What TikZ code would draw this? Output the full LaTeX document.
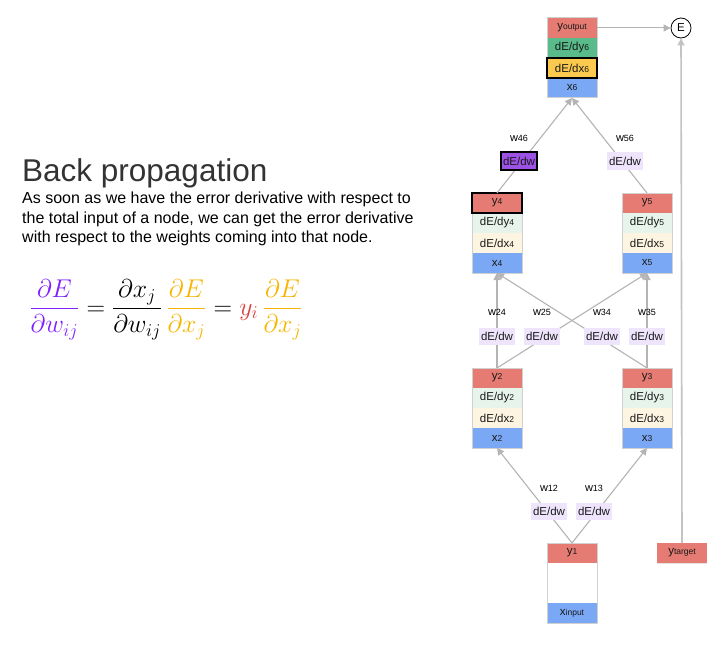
\RequirePackage{fix-cm}
\documentclass[tikz,border=0pt]{standalone}
\usepackage{fontspec}
\setmainfont{Liberation Sans}
\usepackage{amsmath}
\usetikzlibrary{arrows.meta}
\definecolor{cred}{HTML}{E57B72}
\definecolor{cgreen}{HTML}{58BB89}
\definecolor{cyellow}{HTML}{FBC94E}
\definecolor{cblue}{HTML}{7BA8F5}
\definecolor{lgreen}{HTML}{E6F4EC}
\definecolor{lcream}{HTML}{FDF4E1}
\definecolor{lav}{HTML}{EEE5FD}
\definecolor{cpurple}{HTML}{9D52E6}
\definecolor{lineg}{HTML}{B4B4B4}
\definecolor{boxb}{HTML}{D0D0D0}
\definecolor{eqpurple}{HTML}{7F1FFF}
\definecolor{eqyellow}{HTML}{F7B500}
\definecolor{eqred}{HTML}{D9413C}
\newcommand\sbs[1]{{\fontsize{8.5}{8.5}\selectfont #1}}
\newcommand\wsb[1]{{\fontsize{9}{9}\selectfont #1}}
\tikzset{
  row/.style={minimum width=50pt, minimum height=20pt, inner sep=0pt, outer sep=0pt,
    font=\fontsize{11.5}{11.5}\selectfont, text=black!90},
  colborder/.style={draw=boxb, line width=1pt},
  conn/.style={draw=lineg, line width=1.1pt, -{Triangle[width=7pt,length=7pt]}},
  wbox/.style={fill=lav, inner xsep=2.5pt, inner ysep=0pt, minimum height=17pt,
    font=\fontsize{11.5}{11.5}\selectfont, text=black!90},
  wlab/.style={font=\fontsize{11}{11}\selectfont, text=black, inner sep=0pt},
}
\begin{document}
\begin{tikzpicture}[x=1pt,y=-1pt]
\useasboundingbox[fill=white] (0,0) rectangle (711,655);

% left text
\node[anchor=base west, inner sep=0pt, font=\fontsize{31.5}{31.5}\selectfont, text=black!80] (title) at (22,181) {Back propagation};
\node[anchor=north west, inner sep=0pt, align=left, font=\fontsize{16}{19.5}\selectfont, text=black] (body) at (22,192)
  {As soon as we have the error derivative with respect to\\the total input of a node, we can get the error derivative\\with respect to the weights coming into that node.};
\node[inner sep=0pt, font=\fontsize{25.7}{30}\selectfont] (eq) at (166,310)
  {$\displaystyle \textcolor{eqpurple}{\frac{\partial E}{\partial w_{ij}}} = \frac{\partial x_j}{\partial w_{ij}}\,\textcolor{eqyellow}{\frac{\partial E}{\partial x_j}} = \textcolor{eqred}{y_i}\,\textcolor{eqyellow}{\frac{\partial E}{\partial x_j}}$};

% output column
\node[row, fill=cred] (yout) at (572,28) {y\sbs{output}};
\node[row, fill=cgreen] (dy6) at (572,48) {dE/dy\sbs{6}};
\node[row, fill=cyellow] (dx6) at (572,68) {dE/dx\sbs{6}};
\node[row, fill=cblue] (x6) at (572,88) {x\sbs{6}};
\draw[colborder] (yout.north west) rectangle (x6.south east);
\draw[black, line width=2pt] (dx6.north west) rectangle (dx6.south east);

% node 4
\node[row, fill=cred] (y4) at (497,203) {y\sbs{4}};
\node[row, fill=lgreen] (dy4) at (497,223) {dE/dy\sbs{4}};
\node[row, fill=lcream] (dx4) at (497,243) {dE/dx\sbs{4}};
\node[row, fill=cblue] (x4) at (497,263) {x\sbs{4}};
\draw[colborder] (y4.north west) rectangle (x4.south east);
\draw[black, line width=2pt] (y4.north west) rectangle (y4.south east);

% node 5
\node[row, fill=cred] (y5) at (647,203) {y\sbs{5}};
\node[row, fill=lgreen] (dy5) at (647,223) {dE/dy\sbs{5}};
\node[row, fill=lcream] (dx5) at (647,243) {dE/dx\sbs{5}};
\node[row, fill=cblue] (x5) at (647,263) {x\sbs{5}};
\draw[colborder] (y5.north west) rectangle (x5.south east);

% node 2
\node[row, fill=cred] (y2) at (497,378) {y\sbs{2}};
\node[row, fill=lgreen] (dy2) at (497,398) {dE/dy\sbs{2}};
\node[row, fill=lcream] (dx2) at (497,418) {dE/dx\sbs{2}};
\node[row, fill=cblue] (x2) at (497,438) {x\sbs{2}};
\draw[colborder] (y2.north west) rectangle (x2.south east);

% node 3
\node[row, fill=cred] (y3) at (647,378) {y\sbs{3}};
\node[row, fill=lgreen] (dy3) at (647,398) {dE/dy\sbs{3}};
\node[row, fill=lcream] (dx3) at (647,418) {dE/dx\sbs{3}};
\node[row, fill=cblue] (x3) at (647,438) {x\sbs{3}};
\draw[colborder] (y3.north west) rectangle (x3.south east);

% node 1
\node[row, fill=cred] (y1) at (572,553) {y\sbs{1}};
\node[row, minimum height=40pt] (blank1) at (572,583) {};
\node[row, fill=cblue] (xin) at (572,613) {x\sbs{input}};
\draw[colborder] (y1.north west) rectangle (xin.south east);

% target
\node[row, fill=cred] (yt) at (682,553) {y\sbs{target}};
\draw[draw=boxb!60, line width=1pt] (yt.south west) -- (yt.south east);

% error node
\node[circle, draw=black, line width=0.8pt, minimum size=20pt, inner sep=0pt, font=\fontsize{11.5}{11.5}\selectfont] (E) at (681,28) {E};

% connectors
\draw[conn] (y1.north) -- (x2.south);
\draw[conn] (y1.north) -- (x3.south);
\draw[conn] (y2.north) -- (x4.south);
\draw[conn] (y2.north) -- (x5.south);
\draw[conn] (y3.north) -- (x4.south);
\draw[conn] (y3.north) -- (x5.south);
\draw[conn] (y4.north) -- (x6.south);
\draw[conn] (y5.north) -- (x6.south);
\draw[conn, line width=1pt] (yout.east) -- (E.west);
\draw[conn, line width=1.6pt, draw=lineg!80] (yt.north) -- (E.south);

% weight gradients
\node[wbox, fill=cpurple, draw=black, line width=2pt] (g46) at (519,161) {dE/dw};
\node[wbox] (g56) at (625,161) {dE/dw};
\node[wbox] (g24) at (497,336) {dE/dw};
\node[wbox] (g25) at (542,336) {dE/dw};
\node[wbox] (g34) at (602,336) {dE/dw};
\node[wbox] (g35) at (647,336) {dE/dw};
\node[wbox] (g12) at (549,511) {dE/dw};
\node[wbox] (g13) at (594,511) {dE/dw};

% weight names
\node[wlab] (w46) at (519,138) {w\wsb{46}};
\node[wlab] (w56) at (625,138) {w\wsb{56}};
\node[wlab] (w24) at (497,312) {w\wsb{24}};
\node[wlab] (w25) at (542,312) {w\wsb{25}};
\node[wlab] (w34) at (602,312) {w\wsb{34}};
\node[wlab] (w35) at (647,312) {w\wsb{35}};
\node[wlab] (w12) at (549,488) {w\wsb{12}};
\node[wlab] (w13) at (594,488) {w\wsb{13}};
\end{tikzpicture}
\end{document}
